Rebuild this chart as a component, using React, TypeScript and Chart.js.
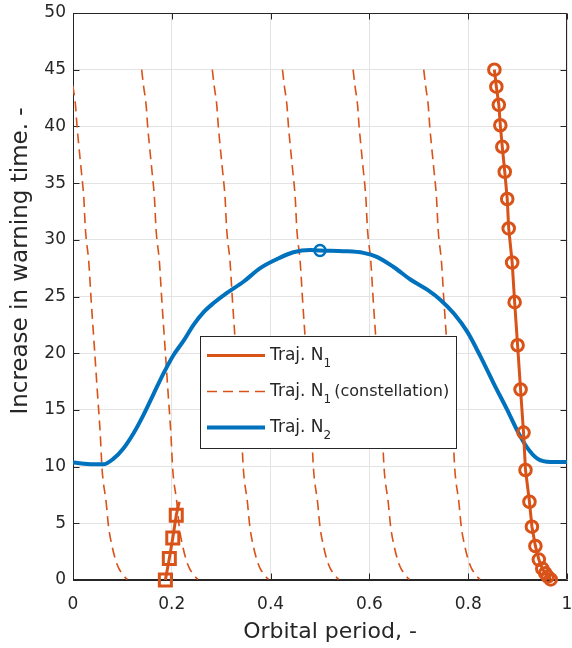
import { useEffect, useRef } from 'react';
import { Chart, registerables } from 'chart.js';

Chart.register(...registerables);

const FONT = '"DejaVu Sans", sans-serif';
const INK = '#262626';
const ORANGE = '#D95319';
const BLUE = '#0072BD';
const GRID = '#e3e3e3';

// Trajectory N1 (circle markers)
const n1Period = [0.853, 0.857, 0.862, 0.865, 0.869, 0.874, 0.879, 0.882, 0.889, 0.894, 0.9, 0.906, 0.912, 0.916, 0.924, 0.929, 0.936, 0.943, 0.95, 0.956, 0.961, 0.967];
const n1Warning = [45.0, 43.5, 41.9, 40.1, 38.2, 36.0, 33.6, 31.0, 28.0, 24.5, 20.7, 16.8, 13.0, 9.7, 6.9, 4.7, 3.0, 1.8, 1.0, 0.6, 0.3, 0.05];

// Trajectory N1, early branch (square markers); the last vertex carries no marker
const n1EarlyPeriod = [0.187, 0.195, 0.202, 0.209, 0.215];
const n1EarlyWarning = [0.0, 1.9, 3.7, 5.7, 6.9];

// Phase shifts of the other constellation members relative to N1
const constellationShifts = [0.143, 0.286, 0.429, 0.571, 0.714, 0.857];

// Trajectory N2
const n2Period = [0, 0.041, 0.061, 0.082, 0.102, 0.122, 0.142, 0.163, 0.183, 0.203, 0.224, 0.244, 0.264, 0.284, 0.311, 0.345, 0.379, 0.413, 0.446, 0.48, 0.5, 0.548, 0.588, 0.615, 0.649, 0.683, 0.717, 0.744, 0.771, 0.798, 0.825, 0.852, 0.879, 0.899, 0.919, 0.94, 0.967, 1.0];
const n2Warning = [10.37, 10.2, 10.2, 10.7, 11.6, 12.9, 14.5, 16.4, 18.2, 19.8, 21.1, 22.5, 23.6, 24.4, 25.3, 26.3, 27.5, 28.3, 28.9, 29.1, 29.05, 29.0, 28.85, 28.5, 27.6, 26.5, 25.6, 24.7, 23.5, 21.9, 19.7, 17.3, 15.0, 13.2, 11.7, 10.7, 10.4, 10.4];

// Marked point on N2
const n2MarkPeriod = [0.5];
const n2MarkWarning = [29.05];

const xTickValues = [0, 0.2, 0.4, 0.6, 0.8, 1];
const xTickLabels = ['0', '0.2', '0.4', '0.6', '0.8', '1'];
const yTickValues = [0, 5, 10, 15, 20, 25, 30, 35, 40, 45, 50];
const yTickLabels = ['0', '5', '10', '15', '20', '25', '30', '35', '40', '45', '50'];

const xTitle = 'Orbital period, -';
const yTitle = 'Increase in warning time. -';

const legendRows = [
  { main: 'Traj. N', sub: '1', tail: '', color: ORANGE, width: 3, dash: [] as number[] },
  { main: 'Traj. N', sub: '1', tail: '(constellation)', color: ORANGE, width: 1.6, dash: [10, 6] },
  { main: 'Traj. N', sub: '2', tail: '', color: BLUE, width: 4, dash: [] as number[] },
];

const pts = (xs: number[], ys: number[]) => xs.map((x, i) => ({ x, y: ys[i] }));

const framePlugin = {
  id: 'axesFrame',
  beforeDatasetsDraw(chart: any) {
    const { ctx, chartArea: a, scales } = chart;
    const L = Math.round(a.left) + 0.5;
    const R = Math.round(a.right) - 0.5;
    const T = Math.round(a.top) + 0.5;
    const B = Math.round(a.bottom) - 0.5;
    const tick = 6;
    ctx.save();
    ctx.strokeStyle = INK;
    ctx.lineWidth = 1;
    ctx.beginPath();
    ctx.moveTo(L, T);
    ctx.lineTo(R, T);
    ctx.lineTo(R, B);
    ctx.lineTo(L, B);
    ctx.closePath();
    xTickValues.forEach((v) => {
      const px = Math.round(scales.x.getPixelForValue(v)) + 0.5;
      ctx.moveTo(px, B);
      ctx.lineTo(px, B - tick);
      ctx.moveTo(px, T);
      ctx.lineTo(px, T + tick);
    });
    yTickValues.forEach((v) => {
      const py = Math.round(scales.y.getPixelForValue(v)) + 0.5;
      ctx.moveTo(L, py);
      ctx.lineTo(L + tick, py);
      ctx.moveTo(R, py);
      ctx.lineTo(R - tick, py);
    });
    ctx.stroke();
    ctx.restore();
  },
  afterDatasetsDraw(chart: any) {
    const { ctx, chartArea: a } = chart;
    const x0 = Math.round(a.left) + 127;
    const y0 = Math.round(a.top) + 323;
    const w = 256;
    const h = 112;
    ctx.save();
    ctx.fillStyle = '#ffffff';
    ctx.fillRect(x0, y0, w, h);
    ctx.strokeStyle = INK;
    ctx.lineWidth = 1;
    ctx.strokeRect(x0 + 0.5, y0 + 0.5, w, h);
    legendRows.forEach((row, i) => {
      const ly = y0 + 19.5 + i * 36;
      ctx.beginPath();
      ctx.strokeStyle = row.color;
      ctx.lineWidth = row.width;
      ctx.setLineDash(row.dash);
      ctx.moveTo(x0 + 7, ly);
      ctx.lineTo(x0 + 65, ly);
      ctx.stroke();
      ctx.setLineDash([]);
      ctx.fillStyle = INK;
      ctx.textBaseline = 'alphabetic';
      ctx.textAlign = 'left';
      const base = ly + 4.5;
      let tx = x0 + 70;
      ctx.font = `17px ${FONT}`;
      ctx.fillText(row.main, tx, base);
      tx += ctx.measureText(row.main).width;
      ctx.font = `12px ${FONT}`;
      ctx.fillText(row.sub, tx, base + 7);
      tx += ctx.measureText(row.sub).width;
      if (row.tail) {
        ctx.font = `16px ${FONT}`;
        ctx.fillText(row.tail, tx + 3, base);
      }
    });
    ctx.restore();
  },
  afterDraw(chart: any) {
    // axis titles
    const { ctx, chartArea: a } = chart;
    ctx.save();
    ctx.fillStyle = INK;
    ctx.textAlign = 'center';
    ctx.textBaseline = 'middle';
    ctx.font = `22px ${FONT}`;
    ctx.fillText(xTitle, a.left + 257, a.bottom + 52);
    ctx.translate(a.left - 52, a.top + 248);
    ctx.rotate(-Math.PI / 2);
    ctx.font = `23px ${FONT}`;
    ctx.fillText(yTitle, 0, 0);
    ctx.restore();
  },
};

export default function App() {
  const canvasRef = useRef<HTMLCanvasElement | null>(null);

  useEffect(() => {
    if (!canvasRef.current) return;

    const constellation = constellationShifts.map((s) => ({
      label: 'Traj. N1 (constellation)',
      data: pts(n1Period.map((x) => x - s), n1Warning),
      borderColor: ORANGE,
      borderWidth: 1.6,
      borderDash: [10, 6],
      pointRadius: 0,
      cubicInterpolationMode: 'monotone' as const,
      order: 3,
    }));

    const chart = new Chart(canvasRef.current, {
      type: 'line',
      data: {
        datasets: [
          ...constellation,
          {
            label: 'Traj. N2',
            data: pts(n2Period, n2Warning),
            borderColor: BLUE,
            borderWidth: 4,
            pointRadius: 0,
            cubicInterpolationMode: 'monotone',
            order: 2,
          },
          {
            label: 'Traj. N2 mark',
            data: pts(n2MarkPeriod, n2MarkWarning),
            borderColor: BLUE,
            backgroundColor: 'rgba(0,0,0,0)',
            pointBackgroundColor: 'rgba(0,0,0,0)',
            pointBorderColor: BLUE,
            pointBorderWidth: 2.5,
            pointRadius: 5.5,
            showLine: false,
            order: 1,
          },
          {
            label: 'Traj. N1',
            data: pts(n1Period, n1Warning),
            borderColor: ORANGE,
            borderWidth: 3,
            pointStyle: 'circle',
            pointRadius: 5.8,
            pointBorderWidth: 3,
            pointBorderColor: ORANGE,
            pointBackgroundColor: 'rgba(0,0,0,0)',
            clip: false,
            order: 0,
          },
          {
            label: 'Traj. N1 early',
            data: pts(n1EarlyPeriod, n1EarlyWarning),
            borderColor: ORANGE,
            borderWidth: 3,
            pointStyle: 'rect',
            pointRadius: n1EarlyPeriod.map((_, i) => (i < n1EarlyPeriod.length - 1 ? 8.5 : 0)),
            pointBorderWidth: 3,
            pointBorderColor: ORANGE,
            pointBackgroundColor: 'rgba(0,0,0,0)',
            clip: false,
            order: 0,
          },
        ],
      },
      options: {
        animation: false,
        responsive: true,
        maintainAspectRatio: false,
        parsing: false,
        layout: { autoPadding: false, padding: { left: 0, right: 5, top: 13, bottom: 0 } },
        plugins: {
          legend: { display: false },
          tooltip: { enabled: false },
        },
        scales: {
          x: {
            type: 'linear',
            min: 0,
            max: 1,
            afterBuildTicks: (s: any) => {
              s.ticks = xTickValues.map((value) => ({ value }));
            },
            afterFit: (s: any) => {
              s.height = 68;
              s.paddingLeft = 0;
              s.paddingRight = 0;
            },
            ticks: {
              autoSkip: false,
              maxRotation: 0,
              padding: 14,
              color: INK,
              font: { family: FONT, size: 17 },
              callback: (_v: any, i: number) => xTickLabels[i],
            },
            grid: { color: GRID, drawTicks: false, lineWidth: 1 },
            border: { display: true, color: INK, width: 1 },
            title: { display: false },
          },
          y: {
            type: 'linear',
            min: 0,
            max: 50,
            afterBuildTicks: (s: any) => {
              s.ticks = yTickValues.map((value) => ({ value }));
            },
            afterFit: (s: any) => {
              s.width = 73;
              s.paddingTop = 0;
              s.paddingBottom = 0;
            },
            ticks: {
              autoSkip: false,
              padding: 7,
              color: INK,
              font: { family: FONT, size: 17 },
              callback: (_v: any, i: number) => yTickLabels[i],
            },
            grid: { color: GRID, drawTicks: false, lineWidth: 1 },
            border: { display: true, color: INK, width: 1 },
            title: { display: false },
          },
        },
      },
      plugins: [framePlugin],
    });

    return () => chart.destroy();
  }, []);

  return (
    <div style={{ position: 'fixed', left: 0, top: 0, width: 572, height: 648, background: '#ffffff' }}>
      <canvas ref={canvasRef} />
    </div>
  );
}
